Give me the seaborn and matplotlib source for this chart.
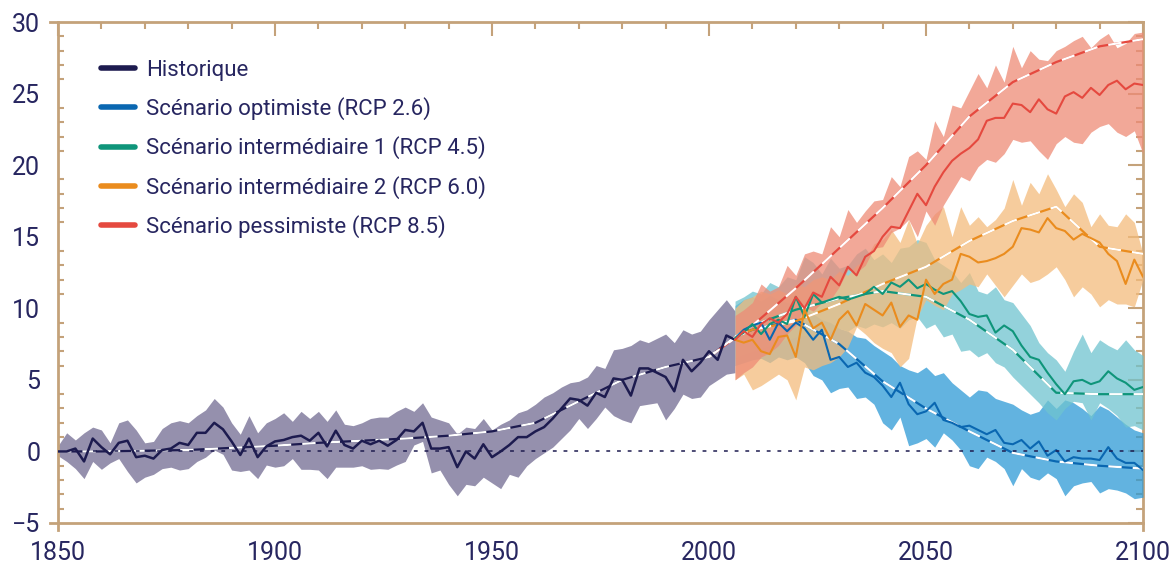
import numpy as np
import matplotlib
matplotlib.use("Agg")
import matplotlib.pyplot as plt
from matplotlib.lines import Line2D
from matplotlib.ticker import MultipleLocator
import seaborn as sns

# ---- data ----
hist_years = np.arange(1850, 2007, 2)
hist_line = [0.0, 0.0, 0.2, -0.7, 0.9, 0.3, -0.2, 0.6, 0.75, -0.4,
             -0.3, -0.5, 0.1, 0.2, 0.6, 0.45, 1.3, 1.3, 2.0, 1.55,
             0.7, -0.25, 0.9, -0.4, 0.35, 0.7, 0.8, 1.0, 1.1, 0.75,
             1.3, 0.35, 1.45, 0.45, 0.2, 0.75, 0.5, 0.75, 0.4, 0.8,
             1.5, 1.4, 2.0, 0.2, 0.2, 0.3, -1.1, 0.0, -0.5, 0.5,
             -0.4, 0.0, 0.45, 1.0, 1.0, 1.4, 1.7, 2.3, 3.0, 3.7,
             3.6, 3.2, 4.1, 3.8, 5.1, 5.0, 3.9, 5.8, 5.8, 5.5,
             5.2, 4.2, 6.4, 5.6, 6.2, 7.0, 6.4, 8.1, 7.8]
hist_hi = [0.4, 1.3, 0.8, 1.3, 1.7, 1.5, 0.6, 2.0, 2.2, 1.5,
           0.6, 0.7, 1.6, 2.0, 2.15, 2.0, 2.5, 2.9, 3.7, 3.1,
           2.0, 1.2, 2.5, 1.3, 2.0, 2.3, 2.7, 2.1, 2.8, 2.3,
           2.8, 2.1, 2.9, 1.9, 1.8, 2.0, 2.3, 2.4, 2.4, 2.8,
           3.1, 2.8, 3.4, 2.4, 2.2, 2.0, 1.2, 1.7, 1.6, 2.3,
           1.5, 1.9, 2.2, 2.7, 2.9, 3.3, 3.8, 4.1, 4.5, 4.8,
           4.9, 5.2, 6.0, 5.8, 7.1, 7.2, 7.4, 7.8, 7.6, 7.9,
           8.2, 7.6, 8.5, 8.2, 8.4, 9.2, 9.9, 10.6, 9.8]
hist_lo = [-0.3, -0.7, -1.2, -1.9, -0.7, -1.25, -0.8, -0.5, -1.4, -2.2,
           -1.8, -1.6, -1.2, -1.1, -1.3, -1.2, -0.7, -0.4, 0.1, -0.2,
           -1.3, -1.4, -1.3, -1.9, -0.95, -1.1, -1.0, -0.5, -1.25, -1.25,
           -1.3, -1.9, -1.1, -1.1, -1.1, -1.0, -1.25, -1.2, -1.25, -0.95,
           -0.7, 0.45, 0.7, -1.5, -1.3, -2.3, -3.1, -2.3, -2.4, -1.8,
           -2.2, -2.6, -1.6, -1.8, -1.0, -0.5, -0.1, 0.3, 0.9, 1.5,
           2.3, 1.6, 2.3, 3.1, 2.5, 2.2, 2.0, 3.2, 3.3, 3.4,
           2.2, 3.0, 4.0, 3.7, 3.8, 4.6, 5.0, 5.4, 5.5]
hist_trend_years = [1850, 1860, 1870, 1880, 1890, 1900, 1910, 1920, 1930,
                    1940, 1950, 1960, 1970, 1980, 1990, 2000, 2006]
hist_trend = [0.0, 0.0, 0.05, 0.1, 0.25, 0.4, 0.6, 0.75, 0.9,
              1.1, 1.4, 2.0, 3.5, 5.0, 5.9, 6.6, 8.0]

scen_years = np.arange(2006, 2101, 2)
trend_years = [2006, 2010, 2020, 2030, 2040, 2050, 2060, 2070, 2080, 2090, 2100]
rcp85_trend_years = [2000, 2010, 2020, 2030, 2040, 2050, 2060, 2070, 2080, 2090, 2100]

rcp26_line = [7.9, 8.5, 8.8, 9.0, 7.8, 9.0, 8.4, 9.0, 8.6, 7.8,
              8.5, 6.4, 6.6, 5.9, 6.2, 5.5, 5.2, 4.6, 3.8, 4.8,
              3.3, 2.6, 2.8, 3.4, 2.2, 2.0, 1.7, 1.8, 1.5, 1.2,
              1.5, 0.6, 0.5, 0.8, 0.2, 0.7, -0.3, 0.1, -0.7, -0.4,
              -0.5, -0.5, -0.6, 0.3, -0.5, -0.8, -0.8, -1.3]
rcp26_hi = [10.2, 10.6, 10.8, 10.5, 10.9, 10.6, 10.4, 10.2, 10.0, 9.6,
            9.2, 9.0, 8.6, 8.4, 8.0, 7.9, 7.4, 7.0, 6.6, 6.0,
            5.7, 5.5, 5.9, 5.3, 5.5, 4.8, 4.3, 3.8, 4.3, 4.2,
            3.7, 3.5, 3.3, 2.9, 2.6, 2.8, 3.6, 3.0, 3.6, 3.4,
            3.0, 2.5, 3.2, 2.9, 2.4, 1.9, 1.5, 1.3]
rcp26_lo = [6.0, 6.2, 6.4, 6.5, 6.2, 6.6, 6.4, 6.6, 6.2, 5.3,
            5.0, 4.1, 4.4, 4.5, 3.7, 3.8, 3.3, 2.0, 1.5, 2.4,
            0.4, 0.6, 0.9, 0.3, 1.3, 0.8, 0.1, -1.0, -1.2, -0.4,
            -0.7, -1.2, -2.4, -1.2, -1.8, -2.0, -1.5, -1.9, -3.1, -2.4,
            -2.2, -2.1, -2.9, -2.6, -2.7, -2.9, -3.3, -3.2]
rcp26_trend = [8.0, 8.5, 9.2, 7.5, 4.9, 3.0, 1.4, -0.1, -0.7, -1.0, -1.2]

rcp45_line = [7.9, 8.3, 8.9, 8.2, 8.9, 9.2, 8.9, 10.8, 9.4, 11.0,
              10.4, 10.6, 10.8, 10.6, 10.8, 11.0, 11.5, 11.0, 11.8, 11.5,
              12.0, 11.4, 11.7, 11.3, 11.0, 11.2, 10.5, 9.6, 9.4, 9.5,
              8.3, 8.8, 8.4, 7.4, 6.6, 6.4, 5.5, 4.7, 4.0, 4.9,
              5.0, 4.7, 4.9, 5.6, 5.1, 4.8, 4.3, 4.5]
rcp45_hi = [10.5, 10.8, 11.2, 11.0, 11.8, 11.5, 12.2, 12.0, 13.6, 13.2,
            12.4, 13.5, 12.8, 13.0, 13.8, 14.2, 13.4, 13.8, 13.2, 14.2,
            14.3, 14.8, 14.6, 13.4, 13.0, 12.6, 11.8, 12.5, 11.2, 11.0,
            11.5, 10.6, 10.4, 9.6, 8.8, 7.6, 6.9, 6.4, 5.6, 7.0,
            8.2, 6.9, 7.8, 7.4, 7.1, 7.8, 7.1, 6.7]
rcp45_lo = [6.5, 6.8, 7.0, 7.2, 7.4, 7.6, 7.8, 8.0, 8.1, 8.2,
            8.0, 8.4, 8.6, 8.4, 8.8, 8.6, 8.9, 8.7, 9.0, 8.6,
            9.2, 9.4, 8.6, 8.9, 8.0, 8.2, 7.0, 7.1, 6.6, 6.9,
            6.2, 5.9, 5.2, 4.6, 4.0, 3.4, 2.7, 2.2, 3.0, 3.5,
            3.4, 2.2, 3.4, 3.0, 2.5, 1.7, 1.8, 1.5]
rcp45_trend = [8.0, 8.8, 9.9, 10.7, 11.2, 10.8, 9.2, 7.1, 4.1, 4.0, 4.0]

rcp60_line = [7.8, 7.6, 7.8, 7.0, 6.8, 8.0, 8.1, 6.6, 9.9, 8.6,
              9.0, 7.8, 9.2, 9.8, 8.8, 10.3, 9.9, 9.5, 10.4, 8.7,
              9.5, 9.2, 12.0, 11.0, 11.7, 12.0, 13.8, 13.6, 13.2, 13.3,
              13.5, 13.8, 14.3, 15.6, 15.5, 15.3, 16.3, 15.6, 15.4, 14.8,
              15.2, 14.9, 14.6, 13.8, 13.3, 11.7, 13.4, 12.2]
rcp60_hi = [10.0, 10.6, 10.8, 11.2, 11.0, 11.3, 11.0, 11.7, 11.5, 12.0,
            12.2, 12.0, 12.6, 12.3, 13.0, 13.4, 14.5, 14.8, 15.5, 14.6,
            16.2, 14.5, 15.8, 16.6, 17.1, 15.0, 17.1, 15.8, 16.4, 15.7,
            16.2, 17.0, 19.0, 17.2, 18.8, 18.0, 19.4, 18.3, 17.1, 18.0,
            17.4, 15.7, 16.6, 15.8, 15.7, 16.6, 16.0, 13.8]
rcp60_lo = [5.0, 5.4, 4.3, 4.6, 5.0, 5.4, 5.0, 3.6, 5.9, 5.7,
            6.0, 6.2, 6.6, 7.3, 8.7, 8.2, 7.6, 7.2, 6.9, 5.9,
            6.5, 9.4, 10.6, 10.2, 9.9, 11.0, 11.3, 11.7, 11.5, 12.4,
            11.6, 10.8, 11.6, 12.4, 11.8, 12.0, 12.4, 12.9, 12.0, 10.8,
            11.5, 11.0, 10.1, 10.6, 10.3, 10.3, 10.1, 12.0]
rcp60_trend = [8.0, 8.5, 9.1, 10.3, 11.7, 12.9, 14.7, 16.1, 17.1, 14.3, 13.8]

rcp85_line = [7.8, 8.4, 8.0, 8.9, 9.3, 9.0, 9.6, 10.8, 10.0, 11.1,
              10.8, 12.2, 11.6, 12.9, 12.3, 13.6, 14.0, 15.0, 15.7, 15.6,
              16.8, 18.0, 17.2, 18.5, 19.5, 20.3, 20.8, 21.2, 21.8, 23.1,
              23.3, 23.3, 24.3, 24.2, 23.7, 24.6, 23.9, 23.6, 24.8, 25.1,
              24.7, 25.4, 24.9, 25.6, 25.9, 25.3, 25.7, 25.6]
rcp85_hi = [9.5, 9.9, 10.4, 11.7, 11.2, 11.5, 13.0, 12.3, 13.8, 14.0,
            13.8, 15.7, 15.0, 16.9, 16.0, 16.8, 17.5, 17.6, 19.2, 18.5,
            20.6, 21.0, 20.4, 23.1, 22.0, 24.2, 24.0, 25.2, 26.4, 25.4,
            27.0, 25.8, 28.3, 26.8, 28.0, 27.4, 27.3, 28.0, 28.3, 28.7,
            29.0, 28.2, 28.8, 29.2, 28.2, 28.5, 29.2, 29.3]
rcp85_lo = [5.0, 5.5, 5.9, 6.6, 6.9, 7.4, 8.2, 8.8, 10.1, 9.8,
            10.4, 10.6, 11.5, 12.7, 12.5, 13.0, 14.2, 14.3, 15.3, 15.6,
            16.2, 15.0, 16.8, 15.8, 17.2, 18.2, 19.2, 18.9, 19.9, 20.4,
            20.2, 20.8, 21.8, 21.6, 21.7, 21.0, 20.4, 21.5, 22.0, 21.6,
            21.5, 22.3, 22.7, 22.9, 22.3, 22.0, 22.4, 20.8]
rcp85_trend = [6.6, 8.8, 11.4, 14.2, 17.0, 20.0, 23.4, 25.8, 27.2, 28.3, 28.8]

labels = ["Historique",
          "Scénario optimiste (RCP 2.6)",
          "Scénario intermédiaire 1 (RCP 4.5)",
          "Scénario intermédiaire 2 (RCP 6.0)",
          "Scénario pessimiste (RCP 8.5)"]

# ---- style ----
navy = "#1d1b4f"
text_c = "#272660"
axis_c = "#c4a27a"
line_cols = [navy, "#0a67b1", "#0f957a", "#ea8c1e", "#e5493f"]
band_cols = ["#726b92", "#2e9ad6", "#6fc4cf", "#f4bc7c", "#ee8b76"]

sns.set_theme(style="white")
plt.rcParams["font.family"] = ["Roboto", "DejaVu Sans"]

fig = plt.figure(figsize=(11.74, 5.65), dpi=100)
ax = fig.add_axes([58 / 1174, 42 / 565, 1085 / 1174, 501 / 565])

# bands
ax.fill_between(hist_years, hist_lo, hist_hi, color=band_cols[0], alpha=0.75, lw=0, zorder=1)
scen = [(rcp26_line, rcp26_lo, rcp26_hi, trend_years, rcp26_trend),
        (rcp45_line, rcp45_lo, rcp45_hi, trend_years, rcp45_trend),
        (rcp60_line, rcp60_lo, rcp60_hi, trend_years, rcp60_trend),
        (rcp85_line, rcp85_lo, rcp85_hi, rcp85_trend_years, rcp85_trend)]
for i, (ln, lo, hi, ty, tr) in enumerate(scen):
    ax.fill_between(scen_years, lo, hi, color=band_cols[i + 1], alpha=0.75, lw=0, zorder=1 + i * 0.1)

# zero reference
ax.hlines(0, 1858, 2100, colors=navy, lw=1.1, linestyles=(0, (2.5, 4.5)), zorder=5)

# trends: coloured line with white dashes on top
ax.plot(hist_trend_years, hist_trend, color=navy, lw=1.6, zorder=3)
ax.plot(hist_trend_years, hist_trend, color="white", lw=1.6, dashes=(6, 5), zorder=3.1)
for i, (ln, lo, hi, ty, tr) in enumerate(scen):
    ax.plot(ty, tr, color=line_cols[i + 1], lw=1.6, zorder=3)
    ax.plot(ty, tr, color="white", lw=1.6, dashes=(6, 5), zorder=3.1)

# noisy series
sns.lineplot(x=hist_years, y=hist_line, ax=ax, color=navy, lw=1.8, zorder=4)
for i, (ln, lo, hi, ty, tr) in enumerate(scen):
    sns.lineplot(x=scen_years, y=ln, ax=ax, color=line_cols[i + 1], lw=1.5, zorder=4)

ax.set_xlim(1850, 2100)
ax.set_ylim(-5, 30)
ax.set_xticks(range(1850, 2101, 50))
ax.set_yticks(range(-5, 31, 5))
ax.yaxis.set_minor_locator(MultipleLocator(1))
ax.set_xlabel("")
ax.set_ylabel("")

for s in ["top", "right"]:
    ax.spines[s].set_visible(False)
for s in ["left", "bottom"]:
    ax.spines[s].set_color(axis_c)
    ax.spines[s].set_linewidth(2)
ax.spines["left"].set_bounds(-5.5, 30)
ax.spines["bottom"].set_bounds(1848.2, 2100)

ax.tick_params(axis="y", which="major", direction="inout", length=9.5, width=1.5,
               color=axis_c, labelsize=18, labelcolor=text_c, pad=8)
ax.tick_params(axis="y", which="minor", direction="in", length=4.3, width=1.5,
               color=axis_c, left=True)
ax.tick_params(axis="x", which="major", direction="out", length=5.8, width=1.5,
               color=axis_c, labelsize=18, labelcolor=text_c, pad=7)

top = ax.secondary_xaxis("top")
top.set_xticks(range(1850, 2101, 50))
top.xaxis.set_minor_locator(MultipleLocator(10))
top.tick_params(which="major", direction="in", length=10, width=1.5, color=axis_c, labeltop=False)
top.tick_params(which="minor", direction="in", length=5, width=1.5, color=axis_c)
top.spines["top"].set_color(axis_c)
top.spines["top"].set_linewidth(2)
top.spines["top"].set_bounds(1848.2, 2100)

right = ax.secondary_yaxis("right")
right.set_yticks(range(-5, 31, 5))
right.yaxis.set_minor_locator(MultipleLocator(1))
right.tick_params(which="major", direction="in", length=10.5, width=1.5, color=axis_c, labelright=False)
right.tick_params(which="minor", direction="in", length=5, width=1.5, color=axis_c)
right.spines["right"].set_color(axis_c)
right.spines["right"].set_linewidth(2)
right.spines["right"].set_bounds(-5.5, 30)

handles = [Line2D([0], [0], color=c, lw=4) for c in line_cols]
ax.legend(handles, labels, loc="upper left", bbox_to_anchor=(0.04, 0.924),
          frameon=False, fontsize=16, handlelength=1.5, handletextpad=0.5,
          labelspacing=0.73, borderaxespad=0, borderpad=0, labelcolor=text_c)

fig.savefig("out.png", dpi=100)
